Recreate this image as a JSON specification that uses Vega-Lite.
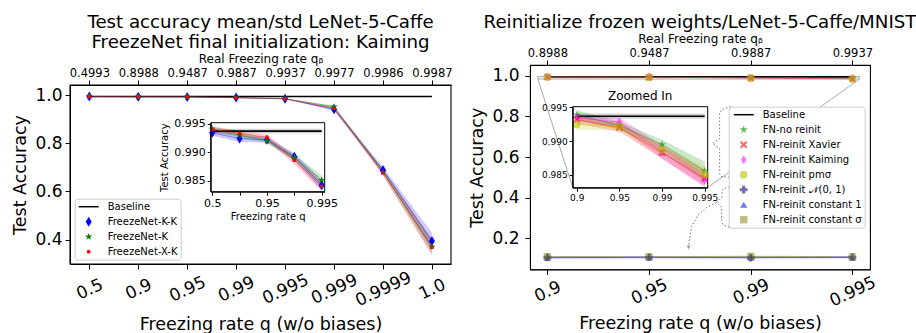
{
  "$schema": "https://vega.github.io/schema/vega-lite/v6.json",
  "background": "white",
  "padding": {"left": 11, "top": 12, "right": 0, "bottom": 0},
  "config": {
    "font": "DejaVu Sans",
    "view": {"stroke": "black", "strokeWidth": 1.1},
    "axis": {"grid": false, "domainColor": "black", "tickColor": "black", "labelColor": "black", "titleColor": "black", "labelFont": "DejaVu Sans", "titleFont": "DejaVu Sans", "titleFontWeight": "normal", "domainWidth": 1, "tickWidth": 1},
    "title": {"font": "DejaVu Sans", "fontSize": 18.2, "fontWeight": "normal", "color": "black", "lineHeight": 20},
    "legend": {"symbolOpacity": 1, "labelFont": "DejaVu Sans", "labelFontSize": 10, "labelColor": "black", "strokeColor": "#cccccc", "fillColor": "rgba(255,255,255,0.85)", "cornerRadius": 3, "padding": 3, "rowPadding": 5, "labelOffset": 14, "labelLimit": 300, "symbolStrokeWidth": 0}
  },
  "datasets": {
    "ls": [
      {"s": "FreezeNet-K-K", "i": 0, "m": 0.9934, "lo": 0.9929, "hi": 0.9939},
      {"s": "FreezeNet-K-K", "i": 1, "m": 0.9924, "lo": 0.9918, "hi": 0.993},
      {"s": "FreezeNet-K-K", "i": 2, "m": 0.9922, "lo": 0.9917, "hi": 0.9927},
      {"s": "FreezeNet-K-K", "i": 3, "m": 0.9892, "lo": 0.9886, "hi": 0.9898},
      {"s": "FreezeNet-K-K", "i": 4, "m": 0.9842, "lo": 0.9833, "hi": 0.9851},
      {"s": "FreezeNet-K-K", "i": 5, "m": 0.941, "lo": 0.935, "hi": 0.947},
      {"s": "FreezeNet-K-K", "i": 6, "m": 0.689, "lo": 0.677, "hi": 0.701},
      {"s": "FreezeNet-K-K", "i": 7, "m": 0.394, "lo": 0.359, "hi": 0.429},
      {"s": "FreezeNet-K", "i": 0, "m": 0.9941, "lo": 0.9937, "hi": 0.9945},
      {"s": "FreezeNet-K", "i": 1, "m": 0.993, "lo": 0.9925, "hi": 0.9935},
      {"s": "FreezeNet-K", "i": 2, "m": 0.992, "lo": 0.9916, "hi": 0.9924},
      {"s": "FreezeNet-K", "i": 3, "m": 0.9891, "lo": 0.9885, "hi": 0.9897},
      {"s": "FreezeNet-K", "i": 4, "m": 0.9851, "lo": 0.9843, "hi": 0.9859},
      {"s": "FreezeNet-K", "i": 5, "m": 0.951, "lo": 0.946, "hi": 0.956},
      {"s": "FreezeNet-K", "i": 6, "m": 0.68, "lo": 0.668, "hi": 0.692},
      {"s": "FreezeNet-K", "i": 7, "m": 0.371, "lo": 0.343, "hi": 0.399},
      {"s": "FreezeNet-X-K", "i": 0, "m": 0.994, "lo": 0.9935, "hi": 0.9945},
      {"s": "FreezeNet-X-K", "i": 1, "m": 0.9933, "lo": 0.9928, "hi": 0.9938},
      {"s": "FreezeNet-X-K", "i": 2, "m": 0.9926, "lo": 0.9921, "hi": 0.9931},
      {"s": "FreezeNet-X-K", "i": 3, "m": 0.9886, "lo": 0.9879, "hi": 0.9893},
      {"s": "FreezeNet-X-K", "i": 4, "m": 0.984, "lo": 0.9832, "hi": 0.9848},
      {"s": "FreezeNet-X-K", "i": 5, "m": 0.945, "lo": 0.939, "hi": 0.951},
      {"s": "FreezeNet-X-K", "i": 6, "m": 0.678, "lo": 0.665, "hi": 0.691},
      {"s": "FreezeNet-X-K", "i": 7, "m": 0.369, "lo": 0.334, "hi": 0.404}
    ],
    "lb": [
      {"i": 0, "m": 0.9937, "lo": 0.9933, "hi": 0.9941},
      {"i": 1, "m": 0.9937, "lo": 0.9933, "hi": 0.9941},
      {"i": 2, "m": 0.9937, "lo": 0.9933, "hi": 0.9941},
      {"i": 3, "m": 0.9937, "lo": 0.9933, "hi": 0.9941},
      {"i": 4, "m": 0.9937, "lo": 0.9933, "hi": 0.9941},
      {"i": 5, "m": 0.9937, "lo": 0.9933, "hi": 0.9941},
      {"i": 6, "m": 0.9937, "lo": 0.9933, "hi": 0.9941},
      {"i": 7, "m": 0.9937, "lo": 0.9933, "hi": 0.9941}
    ],
    "rs": [
      {"s": "FN-no reinit", "i": 0, "m": 0.9939, "lo": 0.9932, "hi": 0.9946},
      {"s": "FN-no reinit", "i": 1, "m": 0.9923, "lo": 0.9917, "hi": 0.9929},
      {"s": "FN-no reinit", "i": 2, "m": 0.9895, "lo": 0.9888, "hi": 0.9902},
      {"s": "FN-no reinit", "i": 3, "m": 0.9856, "lo": 0.9842, "hi": 0.987},
      {"s": "FN-reinit Xavier", "i": 0, "m": 0.9932, "lo": 0.9926, "hi": 0.9938},
      {"s": "FN-reinit Xavier", "i": 1, "m": 0.992, "lo": 0.9914, "hi": 0.9926},
      {"s": "FN-reinit Xavier", "i": 2, "m": 0.9883, "lo": 0.9874, "hi": 0.9892},
      {"s": "FN-reinit Xavier", "i": 3, "m": 0.9845, "lo": 0.9833, "hi": 0.9857},
      {"s": "FN-reinit Kaiming", "i": 0, "m": 0.9935, "lo": 0.9929, "hi": 0.9941},
      {"s": "FN-reinit Kaiming", "i": 1, "m": 0.9928, "lo": 0.9921, "hi": 0.9935},
      {"s": "FN-reinit Kaiming", "i": 2, "m": 0.9884, "lo": 0.9874, "hi": 0.9894},
      {"s": "FN-reinit Kaiming", "i": 3, "m": 0.9842, "lo": 0.9832, "hi": 0.9852},
      {"s": "FN-reinit pmσ", "i": 0, "m": 0.9925, "lo": 0.9917, "hi": 0.9933},
      {"s": "FN-reinit pmσ", "i": 1, "m": 0.9922, "lo": 0.9916, "hi": 0.9928},
      {"s": "FN-reinit pmσ", "i": 2, "m": 0.9887, "lo": 0.9879, "hi": 0.9895},
      {"s": "FN-reinit pmσ", "i": 3, "m": 0.9851, "lo": 0.984, "hi": 0.9862},
      {"s": "FN-reinit 𝒩(0, 1)", "i": 0, "m": 0.107, "lo": 0.103, "hi": 0.111},
      {"s": "FN-reinit 𝒩(0, 1)", "i": 1, "m": 0.108, "lo": 0.104, "hi": 0.112},
      {"s": "FN-reinit 𝒩(0, 1)", "i": 2, "m": 0.106, "lo": 0.102, "hi": 0.11},
      {"s": "FN-reinit 𝒩(0, 1)", "i": 3, "m": 0.108, "lo": 0.104, "hi": 0.112},
      {"s": "FN-reinit constant 1", "i": 0, "m": 0.106, "lo": 0.1, "hi": 0.112},
      {"s": "FN-reinit constant 1", "i": 1, "m": 0.107, "lo": 0.101, "hi": 0.113},
      {"s": "FN-reinit constant 1", "i": 2, "m": 0.107, "lo": 0.101, "hi": 0.113},
      {"s": "FN-reinit constant 1", "i": 3, "m": 0.107, "lo": 0.101, "hi": 0.113},
      {"s": "FN-reinit constant σ", "i": 0, "m": 0.11, "lo": 0.106, "hi": 0.114},
      {"s": "FN-reinit constant σ", "i": 1, "m": 0.109, "lo": 0.105, "hi": 0.113},
      {"s": "FN-reinit constant σ", "i": 2, "m": 0.112, "lo": 0.108, "hi": 0.116},
      {"s": "FN-reinit constant σ", "i": 3, "m": 0.109, "lo": 0.105, "hi": 0.113}
    ],
    "rb": [
      {"i": 0, "m": 0.99368, "lo": 0.9933, "hi": 0.9941},
      {"i": 1, "m": 0.99368, "lo": 0.9933, "hi": 0.9941},
      {"i": 2, "m": 0.99368, "lo": 0.9933, "hi": 0.9941},
      {"i": 3, "m": 0.99368, "lo": 0.9933, "hi": 0.9941}
    ],
    "conn": [
      {"x": -0.094, "y": 0.9831, "x2": 0.249, "y2": 0.4503},
      {"x": 3.07, "y": 0.9831, "x2": 1.576, "y2": 0.4503}
    ],
    "ann": [
      {"g": "b1", "o": 0, "x": 1.8024, "y": 0.8479},
      {"g": "b1", "o": 1, "x": 1.7139, "y": 0.8331},
      {"g": "b1", "o": 2, "x": 1.6942, "y": 0.8135},
      {"g": "b1", "o": 3, "x": 1.6942, "y": 0.6908},
      {"g": "b1", "o": 4, "x": 1.6254, "y": 0.6663},
      {"g": "b1", "o": 5, "x": 1.6942, "y": 0.6417},
      {"g": "b1", "o": 6, "x": 1.6942, "y": 0.519},
      {"g": "b1", "o": 7, "x": 1.7139, "y": 0.5043},
      {"g": "b1", "o": 8, "x": 1.8024, "y": 0.4994},
      {"g": "b2", "o": 0, "x": 1.7926, "y": 0.4552},
      {"g": "b2", "o": 1, "x": 1.7237, "y": 0.4405},
      {"g": "b2", "o": 2, "x": 1.7139, "y": 0.4012},
      {"g": "b2", "o": 3, "x": 1.6647, "y": 0.3767},
      {"g": "b2", "o": 4, "x": 1.7139, "y": 0.3521},
      {"g": "b2", "o": 5, "x": 1.7139, "y": 0.2883},
      {"g": "b2", "o": 6, "x": 1.7237, "y": 0.2687},
      {"g": "b2", "o": 7, "x": 1.7926, "y": 0.254},
      {"g": "ar", "o": 0, "x": 1.6647, "y": 0.3767},
      {"g": "ar", "o": 1, "x": 1.5664, "y": 0.3521},
      {"g": "ar", "o": 2, "x": 1.4779, "y": 0.3129},
      {"g": "ar", "o": 3, "x": 1.4189, "y": 0.2589},
      {"g": "ar", "o": 4, "x": 1.3992, "y": 0.2049},
      {"g": "ar", "o": 5, "x": 1.3894, "y": 0.1607}
    ]
  },
  "concat": [
    {
      "width": 381,
      "height": 199,
      "view": {"stroke": null},
      "title": {"text": ["Test accuracy mean/std LeNet-5-Caffe", "FreezeNet final initialization: Kaiming"], "offset": 0},
      "layer": [
        {
          "layer": [
            {
              "data": {"values": [{}]},
              "mark": {"type": "rect", "filled": false, "stroke": "black", "strokeWidth": 1.1},
              "encoding": {
                "x": {"datum": -0.395, "type": "quantitative", "scale": {"domain": [-0.395, 7.39], "nice": false, "zero": false},
                  "axis": {"orient": "bottom", "values": [0, 1, 2, 3, 4, 5, 6, 7], "labelExpr": "['0.5','0.9','0.95','0.99','0.995','0.999','0.9999','1.0'][datum.value]", "labelAngle": -25, "labelAlign": "center", "labelBaseline": "middle", "labelPadding": 20, "labelFontSize": 17, "labelFlush": false, "labelOverlap": false, "title": "Freezing rate q (w/o biases)", "titleFontSize": 17.5, "titlePadding": 7, "tickSize": 5}},
                "x2": {"datum": 7.39},
                "y": {"datum": 0.299, "type": "quantitative", "scale": {"domain": [0.299, 1.0415], "range": [199, 20], "nice": false, "zero": false},
                  "axis": {"orient": "left", "values": [0.4, 0.6, 0.8, 1.0], "format": ".1f", "labelFontSize": 17, "labelPadding": 3, "title": "Test Accuracy", "titleFontSize": 17.5, "titlePadding": 5, "tickSize": 5}},
                "y2": {"datum": 1.0415}
              }
            },
            {
              "data": {"name": "lb"},
              "mark": {"type": "area", "color": "#888888", "opacity": 0.35},
              "encoding": {
                "x": {"field": "i", "type": "quantitative", "scale": {"domain": [-0.395, 7.39], "nice": false, "zero": false}},
                "y": {"field": "lo", "type": "quantitative", "scale": {"domain": [0.299, 1.0415], "range": [199, 20], "nice": false, "zero": false}},
                "y2": {"field": "hi"}
              }
            },
            {
              "data": {"name": "ls"},
              "mark": {"type": "area", "opacity": 0.2},
              "encoding": {
                "x": {"field": "i", "type": "quantitative", "scale": {"domain": [-0.395, 7.39], "nice": false, "zero": false}},
                "y": {"field": "lo", "type": "quantitative", "scale": {"domain": [0.299, 1.0415], "range": [199, 20], "nice": false, "zero": false}},
                "y2": {"field": "hi"},
                "fill": {"field": "s", "type": "nominal", "scale": {"domain": ["FreezeNet-K-K", "FreezeNet-K", "FreezeNet-X-K"], "range": ["#0000ff", "#008000", "#ff0000"]}, "legend": null}
              }
            },
            {
              "data": {"name": "lb"},
              "mark": {"type": "line", "color": "black", "strokeWidth": 1.6},
              "encoding": {
                "x": {"field": "i", "type": "quantitative", "scale": {"domain": [-0.395, 7.39], "nice": false, "zero": false}},
                "y": {"field": "m", "type": "quantitative", "scale": {"domain": [0.299, 1.0415], "range": [199, 20], "nice": false, "zero": false}}
              }
            },
            {
              "data": {"name": "ls"},
              "mark": {"type": "line", "strokeWidth": 1, "opacity": 0.4},
              "encoding": {
                "x": {"field": "i", "type": "quantitative", "scale": {"domain": [-0.395, 7.39], "nice": false, "zero": false}},
                "y": {"field": "m", "type": "quantitative", "scale": {"domain": [0.299, 1.0415], "range": [199, 20], "nice": false, "zero": false}},
                "stroke": {"field": "s", "type": "nominal", "scale": {"domain": ["FreezeNet-K-K", "FreezeNet-K", "FreezeNet-X-K"], "range": ["#0000ff", "#008000", "#ff0000"]}, "legend": null}
              }
            },
            {
              "data": {"name": "ls"},
              "mark": {"type": "point", "filled": true, "opacity": 1},
              "encoding": {
                "x": {"field": "i", "type": "quantitative", "scale": {"domain": [-0.395, 7.39], "nice": false, "zero": false}},
                "y": {"field": "m", "type": "quantitative", "scale": {"domain": [0.299, 1.0415], "range": [199, 20], "nice": false, "zero": false}},
                "color": {"field": "s", "type": "nominal", "scale": {"domain": ["Baseline", "FreezeNet-K-K", "FreezeNet-K", "FreezeNet-X-K"], "range": ["#000000", "#0000ff", "#008000", "#ff0000"]},
                  "legend": {"title": null, "orient": "none", "legendX": 4.7, "legendY": 133.7, "symbolOffset": 6, "labelOffset": 14, "padding": 3, "rowPadding": 5}},
                "shape": {"field": "s", "type": "nominal", "scale": {"domain": ["Baseline", "FreezeNet-K-K", "FreezeNet-K", "FreezeNet-X-K"], "range": ["M-2,-0.15L2,-0.15L2,0.15L-2,0.15Z", "M0,-1L0.6,0L0,1L-0.6,0Z", "M0,-1L0.2245,-0.309L0.951,-0.309L0.363,0.118L0.588,0.809L0,0.382L-0.588,0.809L-0.363,0.118L-0.951,-0.309L-0.2245,-0.309Z", "circle"]}},
                "size": {"field": "s", "type": "nominal", "scale": {"type": "ordinal", "domain": ["Baseline", "FreezeNet-K-K", "FreezeNet-K", "FreezeNet-X-K"], "range": [100, 100, 60, 14]}}
              }
            }
          ]
        },
        {
          "data": {"name": "lb"},
          "mark": {"type": "point", "opacity": 0},
          "encoding": {
            "x": {"field": "i", "type": "quantitative", "scale": {"domain": [-0.395, 7.39], "nice": false, "zero": false},
              "axis": {"orient": "top", "offset": -20, "values": [0, 1, 2, 3, 4, 5, 6, 7], "labelExpr": "['0.4993','0.8988','0.9487','0.9887','0.9937','0.9977','0.9986','0.9987'][datum.value]", "labelFontSize": 11.5, "labelFlush": false, "labelOverlap": false, "labelPadding": 2, "title": "Real Freezing rate qᵦ", "titleFontSize": 12, "titlePadding": 2, "tickSize": 5}},
            "y": {"field": "m", "type": "quantitative", "scale": {"domain": [0.299, 1.0415], "range": [199, 20], "nice": false, "zero": false}, "axis": null}
          }
        },
        {
          "layer": [
            {
              "data": {"values": [{}]},
              "mark": {"type": "rect", "fill": "white", "stroke": "black", "strokeWidth": 1},
              "encoding": {
                "x": {"datum": -0.055, "type": "quantitative", "scale": {"domain": [-0.055, 4.11], "range": [140.7, 254.7], "nice": false, "zero": false},
                  "axis": {"orient": "bottom", "offset": -72.3, "values": [0, 1, 2, 3, 4], "labelExpr": "['0.5','','0.95','','0.995'][datum.value]", "labelFontSize": 11, "labelFlush": false, "labelOverlap": false, "labelPadding": 2, "tickSize": 3.5, "title": "Freezing rate q", "titleFontSize": 10, "titlePadding": 3, "zindex": 1}},
                "x2": {"datum": 4.11},
                "y": {"datum": 0.98307, "type": "quantitative", "scale": {"domain": [0.98307, 0.99518], "range": [126.7, 57.7], "nice": false, "zero": false},
                  "axis": {"orient": "left", "offset": -140.7, "values": [0.985, 0.99, 0.995], "format": ".3f", "labelFontSize": 11, "labelPadding": 2, "tickSize": 3.5, "title": "Test Accuracy", "titleFontSize": 10, "titlePadding": 4, "zindex": 1}},
                "y2": {"datum": 0.99518}
              }
            },
            {
              "data": {"name": "lb"},
              "transform": [{"filter": "datum.i <= 4"}],
              "mark": {"type": "area", "color": "#888888", "opacity": 0.35},
              "encoding": {
                "x": {"field": "i", "type": "quantitative", "scale": {"domain": [-0.055, 4.11], "range": [140.7, 254.7], "nice": false, "zero": false}},
                "y": {"field": "lo", "type": "quantitative", "scale": {"domain": [0.98307, 0.99518], "range": [126.7, 57.7], "nice": false, "zero": false}},
                "y2": {"field": "hi"}
              }
            },
            {
              "data": {"name": "ls"},
              "transform": [{"filter": "datum.i <= 4"}],
              "mark": {"type": "area", "opacity": 0.2},
              "encoding": {
                "x": {"field": "i", "type": "quantitative", "scale": {"domain": [-0.055, 4.11], "range": [140.7, 254.7], "nice": false, "zero": false}},
                "y": {"field": "lo", "type": "quantitative", "scale": {"domain": [0.98307, 0.99518], "range": [126.7, 57.7], "nice": false, "zero": false}},
                "y2": {"field": "hi"},
                "fill": {"field": "s", "type": "nominal", "scale": {"domain": ["FreezeNet-K-K", "FreezeNet-K", "FreezeNet-X-K"], "range": ["#0000ff", "#008000", "#ff0000"]}, "legend": null}
              }
            },
            {
              "data": {"name": "lb"},
              "transform": [{"filter": "datum.i <= 4"}],
              "mark": {"type": "line", "color": "black", "strokeWidth": 1.6},
              "encoding": {
                "x": {"field": "i", "type": "quantitative", "scale": {"domain": [-0.055, 4.11], "range": [140.7, 254.7], "nice": false, "zero": false}},
                "y": {"field": "m", "type": "quantitative", "scale": {"domain": [0.98307, 0.99518], "range": [126.7, 57.7], "nice": false, "zero": false}}
              }
            },
            {
              "data": {"name": "ls"},
              "transform": [{"filter": "datum.i <= 4"}],
              "mark": {"type": "line", "strokeWidth": 1, "opacity": 0.4},
              "encoding": {
                "x": {"field": "i", "type": "quantitative", "scale": {"domain": [-0.055, 4.11], "range": [140.7, 254.7], "nice": false, "zero": false}},
                "y": {"field": "m", "type": "quantitative", "scale": {"domain": [0.98307, 0.99518], "range": [126.7, 57.7], "nice": false, "zero": false}},
                "stroke": {"field": "s", "type": "nominal", "scale": {"domain": ["FreezeNet-K-K", "FreezeNet-K", "FreezeNet-X-K"], "range": ["#0000ff", "#008000", "#ff0000"]}, "legend": null}
              }
            },
            {
              "data": {"name": "ls"},
              "transform": [{"filter": "datum.i <= 4"}],
              "mark": {"type": "point", "filled": true, "opacity": 1},
              "encoding": {
                "x": {"field": "i", "type": "quantitative", "scale": {"domain": [-0.055, 4.11], "range": [140.7, 254.7], "nice": false, "zero": false}},
                "y": {"field": "m", "type": "quantitative", "scale": {"domain": [0.98307, 0.99518], "range": [126.7, 57.7], "nice": false, "zero": false}},
                "color": {"field": "s", "type": "nominal", "scale": {"domain": ["Baseline", "FreezeNet-K-K", "FreezeNet-K", "FreezeNet-X-K"], "range": ["#000000", "#0000ff", "#008000", "#ff0000"]}},
                "shape": {"field": "s", "type": "nominal", "scale": {"domain": ["Baseline", "FreezeNet-K-K", "FreezeNet-K", "FreezeNet-X-K"], "range": ["M-2,-0.15L2,-0.15L2,0.15L-2,0.15Z", "M0,-1L0.6,0L0,1L-0.6,0Z", "M0,-1L0.2245,-0.309L0.951,-0.309L0.363,0.118L0.588,0.809L0,0.382L-0.588,0.809L-0.363,0.118L-0.951,-0.309L-0.2245,-0.309Z", "circle"]}},
                "size": {"field": "s", "type": "nominal", "scale": {"type": "ordinal", "domain": ["Baseline", "FreezeNet-K-K", "FreezeNet-K", "FreezeNet-X-K"], "range": [100, 100, 60, 14]}}
              }
            }
          ]
        }
      ],
      "resolve": {"scale": {"x": "independent", "y": "independent"}}
    },
    {
      "width": 340,
      "height": 204.4,
      "title": {"text": "Reinitialize frozen weights/LeNet-5-Caffe/MNIST", "offset": 0},
      "layer": [
        {
          "layer": [
            {
              "data": {"name": "conn"},
              "mark": {"type": "rule", "color": "#aaaaaa", "strokeWidth": 1},
              "encoding": {
                "x": {"field": "x", "type": "quantitative", "scale": {"domain": [-0.171, 3.173], "nice": false, "zero": false},
                  "axis": {"orient": "bottom", "values": [0, 1, 2, 3], "labelExpr": "['0.9','0.95','0.99','0.995'][datum.value]", "labelAngle": -25, "labelAlign": "center", "labelBaseline": "middle", "labelPadding": 17, "labelFontSize": 17, "labelFlush": false, "labelOverlap": false, "title": "Freezing rate q (w/o biases)", "titleFontSize": 17.5, "titlePadding": 6, "tickSize": 5}},
                "y": {"field": "y", "type": "quantitative", "scale": {"domain": [0.048, 1.052], "nice": false, "zero": false},
                  "axis": {"orient": "left", "values": [0.2, 0.4, 0.6, 0.8, 1.0], "format": ".1f", "labelFontSize": 17, "labelPadding": 6, "title": "Test Accuracy", "titleFontSize": 17.5, "titlePadding": 5, "tickSize": 5}},
                "x2": {"field": "x2"},
                "y2": {"field": "y2"}
              }
            },
            {
              "data": {"values": [{}]},
              "mark": {"type": "rect", "fill": "#dddddd", "fillOpacity": 0.3, "stroke": "#aaaaaa", "strokeWidth": 1},
              "encoding": {
                "x": {"datum": -0.094, "type": "quantitative", "scale": {"domain": [-0.171, 3.173], "nice": false, "zero": false}},
                "x2": {"datum": 3.07},
                "y": {"datum": 0.9831, "type": "quantitative", "scale": {"domain": [0.048, 1.052], "nice": false, "zero": false}},
                "y2": {"datum": 0.9951}
              }
            },
            {
              "data": {"name": "rb"},
              "mark": {"type": "area", "color": "#888888", "opacity": 0.35},
              "encoding": {
                "x": {"field": "i", "type": "quantitative", "scale": {"domain": [-0.171, 3.173], "nice": false, "zero": false}},
                "y": {"field": "lo", "type": "quantitative", "scale": {"domain": [0.048, 1.052], "nice": false, "zero": false}},
                "y2": {"field": "hi"}
              }
            },
            {
              "data": {"name": "rs"},
              "mark": {"type": "area", "opacity": 0.2},
              "encoding": {
                "x": {"field": "i", "type": "quantitative", "scale": {"domain": [-0.171, 3.173], "nice": false, "zero": false}},
                "y": {"field": "lo", "type": "quantitative", "scale": {"domain": [0.048, 1.052], "nice": false, "zero": false}},
                "y2": {"field": "hi"},
                "fill": {"field": "s", "type": "nominal", "scale": {"domain": ["FN-no reinit", "FN-reinit Xavier", "FN-reinit Kaiming", "FN-reinit pmσ", "FN-reinit 𝒩(0, 1)", "FN-reinit constant 1", "FN-reinit constant σ"], "range": ["#008800", "#ff0000", "#ff00ff", "#bfbf00", "#483d8b", "#0000ff", "#808000"]}, "legend": null}
              }
            },
            {
              "data": {"name": "rb"},
              "mark": {"type": "line", "color": "black", "strokeWidth": 1.6},
              "encoding": {
                "x": {"field": "i", "type": "quantitative", "scale": {"domain": [-0.171, 3.173], "nice": false, "zero": false}},
                "y": {"field": "m", "type": "quantitative", "scale": {"domain": [0.048, 1.052], "nice": false, "zero": false}}
              }
            },
            {
              "data": {"name": "rs"},
              "mark": {"type": "line", "strokeWidth": 1, "opacity": 0.3},
              "encoding": {
                "x": {"field": "i", "type": "quantitative", "scale": {"domain": [-0.171, 3.173], "nice": false, "zero": false}},
                "y": {"field": "m", "type": "quantitative", "scale": {"domain": [0.048, 1.052], "nice": false, "zero": false}},
                "stroke": {"field": "s", "type": "nominal", "scale": {"domain": ["FN-no reinit", "FN-reinit Xavier", "FN-reinit Kaiming", "FN-reinit pmσ", "FN-reinit 𝒩(0, 1)", "FN-reinit constant 1", "FN-reinit constant σ"], "range": ["#008800", "#ff0000", "#ff00ff", "#bfbf00", "#483d8b", "#0000ff", "#808000"]}, "legend": null}
              }
            },
            {
              "data": {"name": "rs"},
              "mark": {"type": "point", "filled": true},
              "encoding": {
                "x": {"field": "i", "type": "quantitative", "scale": {"domain": [-0.171, 3.173], "nice": false, "zero": false}},
                "y": {"field": "m", "type": "quantitative", "scale": {"domain": [0.048, 1.052], "nice": false, "zero": false}},
                "color": {"field": "s", "type": "nominal", "scale": {"domain": ["Baseline", "FN-no reinit", "FN-reinit Xavier", "FN-reinit Kaiming", "FN-reinit pmσ", "FN-reinit 𝒩(0, 1)", "FN-reinit constant 1", "FN-reinit constant σ"], "range": ["#000000", "#008800", "#ff0000", "#ff00ff", "#bfbf00", "#483d8b", "#0000ff", "#808000"]},
                  "legend": {"title": null, "orient": "none", "legendX": 198.7, "legendY": 41.7, "symbolOffset": 7, "labelOffset": 14, "padding": 3, "rowPadding": 5}},
                "shape": {"field": "s", "type": "nominal", "scale": {"domain": ["Baseline", "FN-no reinit", "FN-reinit Xavier", "FN-reinit Kaiming", "FN-reinit pmσ", "FN-reinit 𝒩(0, 1)", "FN-reinit constant 1", "FN-reinit constant σ"], "range": ["M-2,-0.15L2,-0.15L2,0.15L-2,0.15Z", "M0,-1L0.2245,-0.309L0.951,-0.309L0.363,0.118L0.588,0.809L0,0.382L-0.588,0.809L-0.363,0.118L-0.951,-0.309L-0.2245,-0.309Z", "M-1,-0.6L-0.6,-1L0,-0.4L0.6,-1L1,-0.6L0.4,0L1,0.6L0.6,1L0,0.4L-0.6,1L-1,0.6L-0.4,0Z", "M0,-1L0.6,0L0,1L-0.6,0Z", "circle", "cross", "triangle-up", "square"]}},
                "size": {"field": "s", "type": "nominal", "scale": {"type": "ordinal", "domain": ["Baseline", "FN-no reinit", "FN-reinit Xavier", "FN-reinit Kaiming", "FN-reinit pmσ", "FN-reinit 𝒩(0, 1)", "FN-reinit constant 1", "FN-reinit constant σ"], "range": [100, 75, 55, 80, 60, 60, 50, 55]}},
                "opacity": {"field": "s", "type": "nominal", "scale": {"type": "ordinal", "domain": ["Baseline", "FN-no reinit", "FN-reinit Xavier", "FN-reinit Kaiming", "FN-reinit pmσ", "FN-reinit 𝒩(0, 1)", "FN-reinit constant 1", "FN-reinit constant σ"], "range": [1, 0.6, 0.6, 0.55, 0.6, 0.75, 0.55, 0.5]}}
              }
            },
            {
              "data": {"name": "ann"},
              "mark": {"type": "line", "color": "#777777", "strokeWidth": 1, "strokeDash": [1.5, 2]},
              "encoding": {
                "x": {"field": "x", "type": "quantitative", "scale": {"domain": [-0.171, 3.173], "nice": false, "zero": false}},
                "y": {"field": "y", "type": "quantitative", "scale": {"domain": [0.048, 1.052], "nice": false, "zero": false}},
                "detail": {"field": "g"},
                "order": {"field": "o"}
              }
            },
            {
              "data": {"values": [{"x": 1.3894, "y": 0.1558}]},
              "mark": {"type": "point", "shape": "triangle-down", "filled": true, "color": "#777777", "size": 18},
              "encoding": {
                "x": {"field": "x", "type": "quantitative", "scale": {"domain": [-0.171, 3.173], "nice": false, "zero": false}},
                "y": {"field": "y", "type": "quantitative", "scale": {"domain": [0.048, 1.052], "nice": false, "zero": false}}
              }
            }
          ]
        },
        {
          "data": {"name": "rb"},
          "mark": {"type": "point", "opacity": 0},
          "encoding": {
            "x": {"field": "i", "type": "quantitative", "scale": {"domain": [-0.171, 3.173], "nice": false, "zero": false},
              "axis": {"orient": "top", "values": [0, 1, 2, 3], "labelExpr": "['0.8988','0.9487','0.9887','0.9937'][datum.value]", "labelFontSize": 11.5, "labelFlush": false, "labelOverlap": false, "labelPadding": 2, "title": "Real Freezing rate qᵦ", "titleFontSize": 12, "titlePadding": 2, "tickSize": 5}},
            "y": {"field": "m", "type": "quantitative", "scale": {"domain": [0.048, 1.052], "nice": false, "zero": false}, "axis": null}
          }
        },
        {
          "layer": [
            {
              "data": {"values": [{}]},
              "mark": {"type": "rect", "fill": "white", "stroke": "black", "strokeWidth": 1},
              "encoding": {
                "x": {"datum": -0.094, "type": "quantitative", "scale": {"domain": [-0.094, 3.07], "range": [42.7, 177.7], "nice": false, "zero": false},
                  "axis": {"orient": "bottom", "offset": -81.7, "values": [0, 1, 2, 3], "labelExpr": "['0.9','0.95','0.99','0.995'][datum.value]", "labelFontSize": 9, "labelFlush": false, "labelOverlap": false, "labelPadding": 2, "tickSize": 3.5, "title": null, "zindex": 1}},
                "x2": {"datum": 3.07},
                "y": {"datum": 0.9831, "type": "quantitative", "scale": {"domain": [0.9831, 0.9951], "range": [122.7, 41.7], "nice": false, "zero": false},
                  "axis": {"orient": "left", "offset": -42.7, "values": [0.985, 0.99, 0.995], "format": ".3f", "labelFontSize": 9, "labelPadding": 2, "tickSize": 3.5, "title": null, "zindex": 1}},
                "y2": {"datum": 0.9951}
              }
            },
            {
              "data": {"name": "rb"},
              "mark": {"type": "area", "color": "#888888", "opacity": 0.35},
              "encoding": {
                "x": {"field": "i", "type": "quantitative", "scale": {"domain": [-0.094, 3.07], "range": [42.7, 177.7], "nice": false, "zero": false}},
                "y": {"field": "lo", "type": "quantitative", "scale": {"domain": [0.9831, 0.9951], "range": [122.7, 41.7], "nice": false, "zero": false}},
                "y2": {"field": "hi"}
              }
            },
            {
              "data": {"name": "rs"},
              "transform": [{"filter": {"field": "s", "oneOf": ["FN-no reinit", "FN-reinit Xavier", "FN-reinit Kaiming", "FN-reinit pmσ"]}}],
              "mark": {"type": "area", "opacity": 0.2},
              "encoding": {
                "x": {"field": "i", "type": "quantitative", "scale": {"domain": [-0.094, 3.07], "range": [42.7, 177.7], "nice": false, "zero": false}},
                "y": {"field": "lo", "type": "quantitative", "scale": {"domain": [0.9831, 0.9951], "range": [122.7, 41.7], "nice": false, "zero": false}},
                "y2": {"field": "hi"},
                "fill": {"field": "s", "type": "nominal", "scale": {"domain": ["FN-no reinit", "FN-reinit Xavier", "FN-reinit Kaiming", "FN-reinit pmσ", "FN-reinit 𝒩(0, 1)", "FN-reinit constant 1", "FN-reinit constant σ"], "range": ["#008800", "#ff0000", "#ff00ff", "#bfbf00", "#483d8b", "#0000ff", "#808000"]}, "legend": null}
              }
            },
            {
              "data": {"name": "rb"},
              "mark": {"type": "line", "color": "black", "strokeWidth": 1.6},
              "encoding": {
                "x": {"field": "i", "type": "quantitative", "scale": {"domain": [-0.094, 3.07], "range": [42.7, 177.7], "nice": false, "zero": false}},
                "y": {"field": "m", "type": "quantitative", "scale": {"domain": [0.9831, 0.9951], "range": [122.7, 41.7], "nice": false, "zero": false}}
              }
            },
            {
              "data": {"name": "rs"},
              "transform": [{"filter": {"field": "s", "oneOf": ["FN-no reinit", "FN-reinit Xavier", "FN-reinit Kaiming", "FN-reinit pmσ"]}}],
              "mark": {"type": "line", "strokeWidth": 1, "opacity": 0.4},
              "encoding": {
                "x": {"field": "i", "type": "quantitative", "scale": {"domain": [-0.094, 3.07], "range": [42.7, 177.7], "nice": false, "zero": false}},
                "y": {"field": "m", "type": "quantitative", "scale": {"domain": [0.9831, 0.9951], "range": [122.7, 41.7], "nice": false, "zero": false}},
                "stroke": {"field": "s", "type": "nominal", "scale": {"domain": ["FN-no reinit", "FN-reinit Xavier", "FN-reinit Kaiming", "FN-reinit pmσ", "FN-reinit 𝒩(0, 1)", "FN-reinit constant 1", "FN-reinit constant σ"], "range": ["#008800", "#ff0000", "#ff00ff", "#bfbf00", "#483d8b", "#0000ff", "#808000"]}, "legend": null}
              }
            },
            {
              "data": {"name": "rs"},
              "transform": [{"filter": {"field": "s", "oneOf": ["FN-no reinit", "FN-reinit Xavier", "FN-reinit Kaiming", "FN-reinit pmσ"]}}],
              "mark": {"type": "point", "filled": true},
              "encoding": {
                "x": {"field": "i", "type": "quantitative", "scale": {"domain": [-0.094, 3.07], "range": [42.7, 177.7], "nice": false, "zero": false}},
                "y": {"field": "m", "type": "quantitative", "scale": {"domain": [0.9831, 0.9951], "range": [122.7, 41.7], "nice": false, "zero": false}},
                "color": {"field": "s", "type": "nominal", "scale": {"domain": ["Baseline", "FN-no reinit", "FN-reinit Xavier", "FN-reinit Kaiming", "FN-reinit pmσ", "FN-reinit 𝒩(0, 1)", "FN-reinit constant 1", "FN-reinit constant σ"], "range": ["#000000", "#008800", "#ff0000", "#ff00ff", "#bfbf00", "#483d8b", "#0000ff", "#808000"]}},
                "shape": {"field": "s", "type": "nominal", "scale": {"domain": ["Baseline", "FN-no reinit", "FN-reinit Xavier", "FN-reinit Kaiming", "FN-reinit pmσ", "FN-reinit 𝒩(0, 1)", "FN-reinit constant 1", "FN-reinit constant σ"], "range": ["M-2,-0.15L2,-0.15L2,0.15L-2,0.15Z", "M0,-1L0.2245,-0.309L0.951,-0.309L0.363,0.118L0.588,0.809L0,0.382L-0.588,0.809L-0.363,0.118L-0.951,-0.309L-0.2245,-0.309Z", "M-1,-0.6L-0.6,-1L0,-0.4L0.6,-1L1,-0.6L0.4,0L1,0.6L0.6,1L0,0.4L-0.6,1L-1,0.6L-0.4,0Z", "M0,-1L0.6,0L0,1L-0.6,0Z", "circle", "cross", "triangle-up", "square"]}},
                "size": {"field": "s", "type": "nominal", "scale": {"type": "ordinal", "domain": ["Baseline", "FN-no reinit", "FN-reinit Xavier", "FN-reinit Kaiming", "FN-reinit pmσ", "FN-reinit 𝒩(0, 1)", "FN-reinit constant 1", "FN-reinit constant σ"], "range": [100, 75, 55, 80, 60, 60, 50, 55]}},
                "opacity": {"field": "s", "type": "nominal", "scale": {"type": "ordinal", "domain": ["Baseline", "FN-no reinit", "FN-reinit Xavier", "FN-reinit Kaiming", "FN-reinit pmσ", "FN-reinit 𝒩(0, 1)", "FN-reinit constant 1", "FN-reinit constant σ"], "range": [1, 0.6, 0.6, 0.55, 0.6, 0.75, 0.55, 0.5]}}
              }
            },
            {
              "data": {"values": [{"t": "Zoomed In"}]},
              "mark": {"type": "text", "fontSize": 12, "align": "center", "baseline": "alphabetic", "dy": -7, "color": "black"},
              "encoding": {
                "x": {"datum": 1.488, "type": "quantitative", "scale": {"domain": [-0.094, 3.07], "range": [42.7, 177.7], "nice": false, "zero": false}},
                "y": {"datum": 0.9951, "type": "quantitative", "scale": {"domain": [0.9831, 0.9951], "range": [122.7, 41.7], "nice": false, "zero": false}},
                "text": {"field": "t"}
              }
            }
          ]
        }
      ],
      "resolve": {"scale": {"x": "independent", "y": "independent"}}
    }
  ],
  "columns": 2,
  "align": "none",
  "spacing": 15,
  "resolve": {"scale": {"color": "independent", "shape": "independent", "size": "independent", "fill": "independent", "stroke": "independent", "opacity": "independent"}}
}
